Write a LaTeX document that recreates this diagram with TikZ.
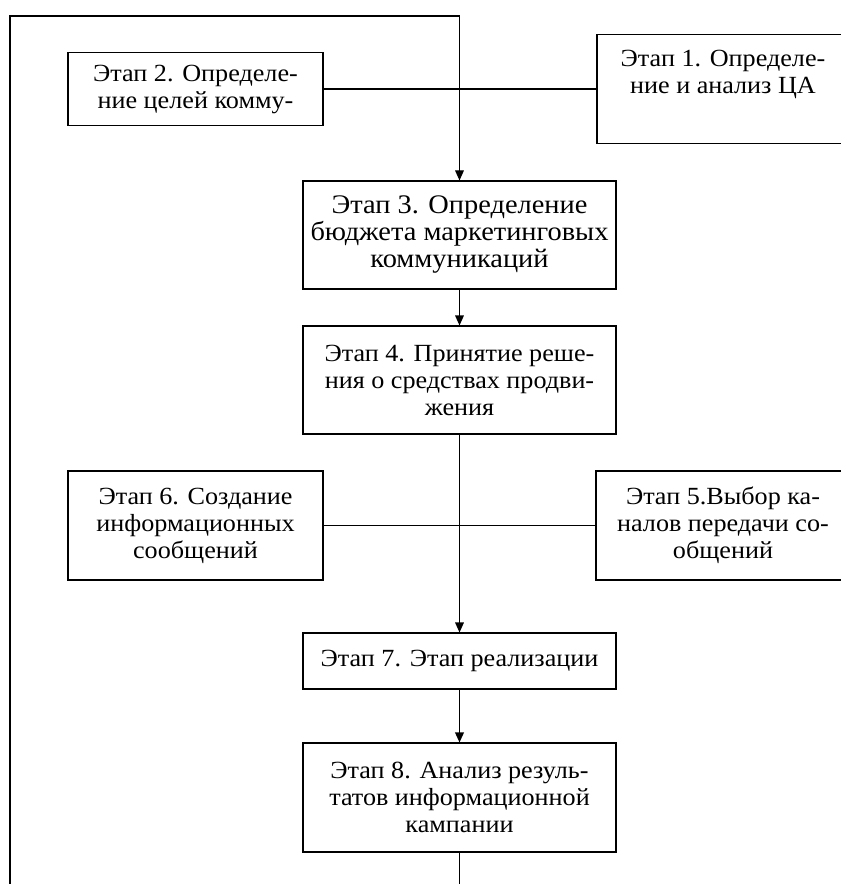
\documentclass[tikz,border=0pt]{standalone}
\usepackage{fontspec}
\setmainfont{Liberation Serif}[FakeStretch=1.06]
\usetikzlibrary{arrows.meta}

\begin{document}
\begin{tikzpicture}[x=0.75pt, y=-0.75pt, line width=0.8pt,
    stage/.style={draw, align=center, inner sep=0pt,
        font=\fontsize{18.5}{20.25}\selectfont},
    flow/.style={-{Triangle[length=7.5pt,width=6.5pt]}}]
    \useasboundingbox (0,0) rectangle (841,884);
    \clip (0,0) rectangle (841,884);

    % Top row
    \node[stage, minimum width=189pt, minimum height=81.75pt, text depth=25pt]
        (stage1) at (723,89) {Этап 1. Определе-\\ние и анализ ЦА};
    \node[stage, minimum width=191.25pt, minimum height=54.75pt]
        (stage2) at (195.5,89) {Этап 2. Определе-\\ние целей комму-};

    % Main column
    \node[stage, minimum width=234.75pt, minimum height=81pt,
        font=\fontsize{20.1}{20.25}\selectfont]
        (stage3) at (459.5,235) {Этап 3. Определение\\бюджета маркетинговых\\коммуникаций};
    \node[stage, minimum width=234.75pt, minimum height=81pt]
        (stage4) at (459.5,380) {Этап 4. Принятие реше-\\ния о средствах продви-\\жения};

    % Middle row
    \node[stage, minimum width=190.5pt, minimum height=81.75pt]
        (stage5) at (723,525.5) {Этап 5.Выбор ка-\\налов передачи со-\\общений};
    \node[stage, minimum width=191.25pt, minimum height=81.75pt]
        (stage6) at (195.5,525.5) {Этап 6. Создание\\информационных\\сообщений};

    % Bottom of column
    \node[stage, minimum width=234.75pt, minimum height=42pt]
        (stage7) at (459.5,661) {Этап 7. Этап реализации};
    \node[stage, minimum width=234.75pt, minimum height=81.75pt]
        (stage8) at (459.5,797.5) {Этап 8. Анализ резуль-\\татов информационной\\кампании};

    % Feedback loop (runs off the page)
    \coordinate (loopDown) at (459.5,910);
    \coordinate (loopTop) at (10,16);
    \draw[flow] (stage8.south) -- (loopDown) -| (loopTop) -| (stage3.north);

    % Links
    \draw (stage2.east) -- (stage1.west);
    \draw[flow] (stage3) -- (stage4);
    \draw[flow] (stage4) -- (stage7);
    \draw (stage6.east) -- (stage5.west);
    \draw[flow, line width=1.1pt] (stage7) -- (stage8);
\end{tikzpicture}
\end{document}
